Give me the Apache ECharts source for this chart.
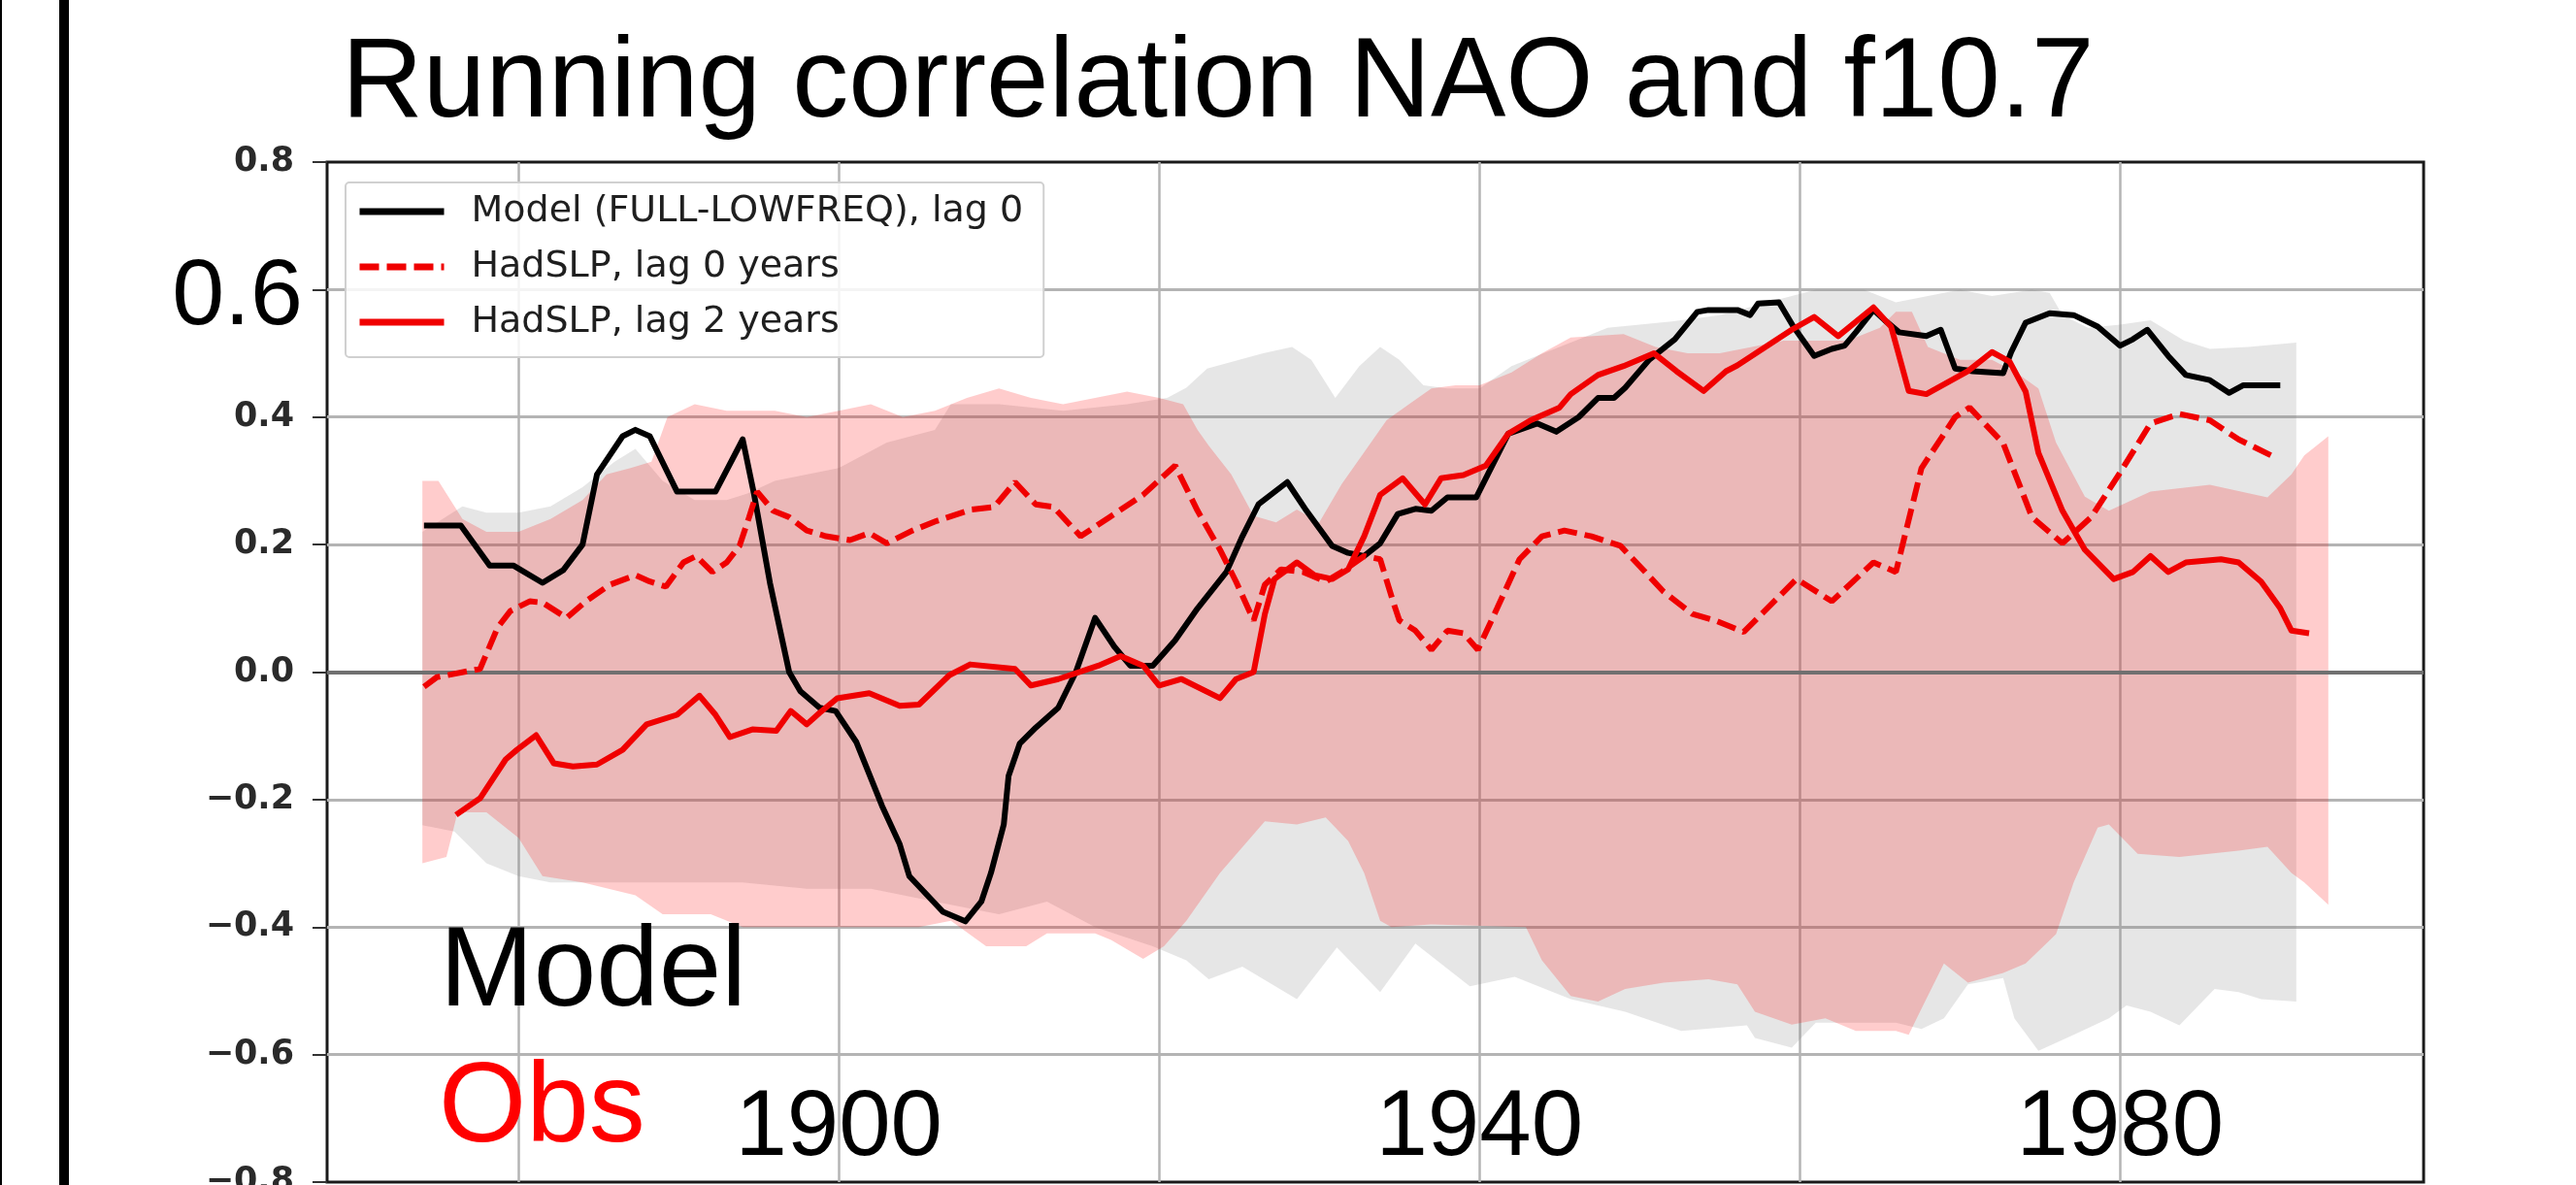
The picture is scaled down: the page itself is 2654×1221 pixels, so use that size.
<!DOCTYPE html>
<html><head><meta charset="utf-8">
<script src="https://cdn.jsdelivr.net/npm/echarts@6/dist/echarts.min.js"></script>
<style>html,body{margin:0;padding:0;background:#fff;}#c{width:2654px;height:1221px;}</style>
</head><body><div id="c"></div>
<script>
const titleText = 'Running correlation NAO and f10.7';
const seriesNames = ['Model (FULL-LOWFREQ), lag 0', 'HadSLP, lag 0 years', 'HadSLP, lag 2 years'];
const xGridYears = [1880, 1900, 1920, 1940, 1960, 1980];
const xLabelYears = [1900, 1940, 1980];
const bigYLabel = '0.6';
const panelLabels = ['Model', 'Obs'];

const modelYears = [1874.1,1876.4,1878.2,1879.7,1881.5,1882.8,1884.0,1884.9,1886.5,1887.3,1888.2,1889.9,1892.3,1894.0,1894.7,1895.7,1896.9,1897.6,1898.8,1899.8,1901.1,1902.7,1903.8,1904.4,1906.5,1907.9,1908.9,1909.5,1910.3,1910.6,1911.3,1912.3,1913.7,1914.8,1916.0,1917.2,1918.2,1919.6,1921.0,1922.4,1924.2,1925.2,1926.2,1928.0,1929.2,1930.8,1931.8,1932.8,1933.8,1934.9,1936.0,1937.0,1938.0,1939.8,1940.8,1941.8,1943.6,1944.8,1946.2,1947.4,1948.4,1949.1,1950.6,1952.2,1953.6,1954.3,1956.1,1956.9,1957.4,1958.7,1959.6,1960.9,1962.0,1962.8,1963.5,1964.6,1965.3,1966.2,1967.9,1968.8,1969.7,1970.8,1972.7,1973.2,1974.1,1975.6,1977.1,1978.6,1980.0,1980.8,1981.7,1983.0,1984.1,1985.6,1986.8,1987.7,1990.0];
const modelCorr = [0.23,0.23,0.167,0.167,0.14,0.16,0.20,0.31,0.37,0.38,0.37,0.283,0.283,0.365,0.28,0.14,0.0,-0.03,-0.056,-0.061,-0.11,-0.21,-0.27,-0.32,-0.376,-0.391,-0.36,-0.315,-0.239,-0.163,-0.112,-0.087,-0.056,0.0,0.085,0.04,0.01,0.01,0.05,0.10,0.157,0.213,0.263,0.298,0.253,0.198,0.187,0.182,0.202,0.248,0.256,0.253,0.274,0.274,0.324,0.374,0.39,0.377,0.40,0.43,0.43,0.446,0.49,0.522,0.565,0.568,0.568,0.56,0.578,0.58,0.542,0.496,0.507,0.512,0.533,0.568,0.552,0.533,0.527,0.537,0.476,0.472,0.469,0.502,0.548,0.563,0.56,0.542,0.512,0.522,0.537,0.496,0.466,0.458,0.438,0.45,0.45];

const lag0Years = [1874.1,1874.9,1877.6,1878.7,1879.5,1880.7,1881.5,1883.0,1884.2,1885.7,1887.3,1888.2,1889.2,1890.3,1891.1,1892.1,1893.0,1893.8,1894.4,1894.9,1895.9,1896.9,1898.0,1899.2,1900.7,1901.9,1903.0,1904.6,1906.1,1908.3,1909.7,1911.0,1912.3,1913.4,1915.1,1916.9,1919.0,1921.0,1922.4,1923.8,1924.8,1925.9,1926.6,1927.6,1929.0,1930.4,1931.4,1932.8,1933.8,1934.6,1935.0,1936.0,1937.0,1938.0,1939.0,1939.9,1941.1,1942.5,1943.9,1945.3,1947.0,1948.8,1950.2,1951.5,1953.3,1954.7,1956.5,1959.8,1962.0,1964.6,1966.0,1967.6,1969.7,1970.6,1972.7,1974.5,1976.4,1978.2,1980.0,1981.9,1983.7,1985.6,1987.4,1989.5];
const lag0Corr = [-0.023,-0.008,0.005,0.07,0.096,0.111,0.109,0.085,0.111,0.137,0.152,0.142,0.134,0.172,0.182,0.157,0.172,0.198,0.243,0.283,0.253,0.243,0.222,0.213,0.207,0.218,0.202,0.222,0.237,0.255,0.259,0.298,0.263,0.259,0.213,0.243,0.278,0.324,0.253,0.192,0.142,0.081,0.137,0.161,0.157,0.142,0.157,0.182,0.177,0.111,0.081,0.065,0.035,0.065,0.061,0.035,0.10,0.177,0.213,0.222,0.213,0.198,0.161,0.126,0.091,0.081,0.063,0.146,0.111,0.172,0.157,0.32,0.40,0.415,0.359,0.243,0.202,0.243,0.313,0.39,0.405,0.395,0.365,0.339];

const lag2Years = [1876.1,1877.6,1879.2,1879.9,1881.1,1882.2,1883.4,1884.9,1886.5,1888.0,1889.9,1891.3,1892.3,1893.2,1894.6,1896.1,1897.0,1898.0,1898.8,1899.9,1901.9,1903.8,1905.0,1906.9,1908.2,1911.0,1912.0,1913.7,1916.2,1917.6,1919.0,1920.0,1921.4,1923.8,1924.8,1925.9,1926.6,1927.2,1928.6,1929.7,1930.8,1931.8,1932.8,1933.8,1935.2,1936.6,1937.6,1939.0,1940.4,1941.8,1943.2,1945.0,1945.7,1947.4,1949.0,1950.9,1952.3,1954.0,1955.4,1956.1,1959.5,1960.9,1962.4,1964.6,1965.7,1966.8,1967.9,1970.5,1972.0,1973.1,1974.1,1974.9,1976.4,1977.8,1979.6,1980.8,1981.9,1983.0,1984.1,1986.3,1987.4,1988.8,1990.0,1990.7,1991.8];
const lag2Corr = [-0.224,-0.198,-0.137,-0.122,-0.099,-0.143,-0.148,-0.145,-0.122,-0.082,-0.067,-0.037,-0.067,-0.102,-0.09,-0.092,-0.061,-0.082,-0.064,-0.041,-0.033,-0.053,-0.051,-0.005,0.012,0.005,-0.021,-0.011,0.01,0.025,0.01,-0.021,-0.011,-0.041,-0.011,0.0,0.091,0.146,0.172,0.152,0.146,0.161,0.213,0.278,0.304,0.263,0.304,0.309,0.324,0.374,0.395,0.415,0.436,0.466,0.48,0.50,0.472,0.441,0.472,0.481,0.537,0.557,0.527,0.572,0.542,0.441,0.436,0.472,0.502,0.487,0.44,0.344,0.253,0.192,0.146,0.157,0.182,0.157,0.172,0.177,0.172,0.142,0.10,0.065,0.061];

const obsUpperYears = [1874.0,1875.0,1876.5,1878.0,1880.0,1882.0,1884.0,1885.5,1887.0,1888.3,1889.3,1891.0,1893.0,1894.3,1896.0,1898.0,1900.0,1902.0,1904.0,1906.0,1908.0,1910.0,1912.0,1914.0,1916.0,1918.0,1920.0,1921.5,1922.4,1923.1,1924.5,1925.9,1927.3,1928.6,1930.0,1931.4,1932.8,1934.2,1935.6,1937.0,1938.5,1940.0,1942.0,1943.9,1945.7,1949.0,1951.0,1953.0,1955.0,1957.0,1959.0,1961.0,1963.0,1965.0,1966.0,1967.0,1968.0,1970.0,1972.0,1973.5,1974.9,1976.0,1977.8,1979.3,1981.9,1985.6,1989.2,1990.7,1991.5,1993.0];
const obsUpper = [0.30,0.30,0.24,0.22,0.22,0.24,0.27,0.31,0.32,0.33,0.40,0.42,0.41,0.41,0.41,0.40,0.41,0.42,0.40,0.41,0.43,0.445,0.43,0.42,0.43,0.44,0.43,0.42,0.38,0.355,0.31,0.245,0.235,0.255,0.235,0.295,0.345,0.395,0.42,0.445,0.45,0.45,0.47,0.50,0.525,0.53,0.51,0.50,0.50,0.51,0.52,0.52,0.52,0.54,0.565,0.565,0.51,0.49,0.49,0.47,0.445,0.36,0.275,0.253,0.283,0.294,0.274,0.31,0.34,0.37];
const obsLowerYears = [1874.0,1875.5,1876.2,1878.0,1880.0,1881.5,1884.0,1887.3,1889.0,1892.0,1894.0,1898.0,1902.0,1905.0,1907.0,1909.2,1911.7,1913.0,1916.0,1917.0,1919.0,1920.3,1921.7,1923.8,1926.6,1928.6,1930.4,1931.8,1932.8,1933.8,1934.5,1937.0,1942.9,1943.9,1945.7,1947.4,1949.1,1951.5,1954.3,1956.1,1957.2,1959.5,1961.6,1963.5,1966.0,1966.8,1967.6,1969.0,1970.5,1972.7,1974.1,1976.0,1977.1,1978.6,1979.3,1981.1,1983.7,1987.4,1989.2,1990.7,1991.5,1993.0];
const obsLower = [-0.30,-0.29,-0.22,-0.22,-0.26,-0.32,-0.33,-0.35,-0.38,-0.38,-0.40,-0.40,-0.40,-0.40,-0.39,-0.43,-0.43,-0.41,-0.41,-0.42,-0.45,-0.43,-0.39,-0.315,-0.234,-0.239,-0.228,-0.265,-0.315,-0.39,-0.40,-0.396,-0.40,-0.452,-0.508,-0.517,-0.497,-0.487,-0.482,-0.49,-0.533,-0.553,-0.543,-0.563,-0.563,-0.569,-0.528,-0.457,-0.487,-0.472,-0.457,-0.411,-0.33,-0.244,-0.239,-0.285,-0.29,-0.28,-0.274,-0.315,-0.33,-0.365];

const modelUpperYears = [1874.0,1876.5,1878.0,1880.0,1882.0,1884.0,1886.0,1887.3,1889.0,1891.0,1893.0,1894.3,1896.0,1900.0,1903.0,1906.0,1907.0,1910.0,1914.0,1918.0,1920.5,1921.7,1923.0,1925.0,1926.5,1928.3,1929.5,1931.0,1932.5,1933.8,1935.0,1936.5,1938.0,1940.0,1942.0,1944.0,1946.0,1948.0,1950.0,1952.0,1955.0,1958.0,1961.0,1964.0,1966.0,1968.0,1970.0,1972.0,1974.5,1975.6,1976.4,1978.0,1980.0,1981.9,1984.0,1985.6,1988.0,1991.0];
const modelUpper = [0.22,0.26,0.25,0.25,0.26,0.29,0.33,0.35,0.30,0.27,0.27,0.28,0.30,0.32,0.36,0.38,0.42,0.42,0.41,0.42,0.43,0.446,0.476,0.49,0.50,0.51,0.49,0.43,0.48,0.51,0.49,0.45,0.445,0.445,0.48,0.50,0.52,0.54,0.545,0.55,0.56,0.58,0.60,0.60,0.58,0.59,0.60,0.59,0.60,0.595,0.56,0.54,0.545,0.552,0.52,0.507,0.51,0.517];
const modelLowerYears = [1874.0,1876.0,1878.0,1880.0,1882.0,1885.0,1887.3,1890.0,1894.0,1898.0,1902.0,1906.0,1910.0,1913.0,1916.0,1919.6,1921.7,1923.1,1925.2,1928.6,1931.1,1933.8,1936.0,1939.4,1942.2,1945.7,1949.1,1952.6,1956.7,1957.2,1959.5,1961.0,1966.0,1967.6,1969.0,1970.5,1972.7,1973.4,1974.9,1977.1,1979.3,1980.4,1981.9,1983.7,1985.9,1987.4,1988.8,1991.0];
const modelLower = [-0.24,-0.25,-0.30,-0.32,-0.33,-0.33,-0.33,-0.33,-0.33,-0.34,-0.34,-0.36,-0.38,-0.36,-0.40,-0.43,-0.452,-0.482,-0.462,-0.513,-0.432,-0.502,-0.426,-0.493,-0.478,-0.513,-0.533,-0.563,-0.554,-0.574,-0.589,-0.55,-0.55,-0.56,-0.543,-0.49,-0.48,-0.543,-0.594,-0.569,-0.543,-0.523,-0.533,-0.554,-0.497,-0.502,-0.513,-0.517];

function pairs(xs, ys) { return xs.map((x, i) => [x, ys[i]]); }

function bandSeries(name, upX, upY, loX, loY, color, z) {
  const poly = pairs(upX, upY).concat(pairs(loX, loY).reverse());
  return {
    type: 'custom', name: name, coordinateSystem: 'cartesian2d', silent: true, z: z,
    clip: true, data: poly, encode: { x: 0, y: 1 },
    renderItem: function (params, api) {
      if (params.dataIndex !== 0) return null;
      return { type: 'polygon', shape: { points: poly.map(p => api.coord(p)) }, style: { fill: color } };
    }
  };
}

const chart = echarts.init(document.getElementById('c'), null, { renderer: 'canvas' });
const modelBand = bandSeries('modelBand', modelUpperYears, modelUpper, modelLowerYears, modelLower, 'rgba(128,128,128,0.2)', 1);
modelBand.markLine = {
  silent: true, symbol: 'none', label: { show: false },
  lineStyle: { color: '#707070', width: 4, type: 'solid' },
  data: [{ yAxis: 0 }]
};

chart.setOption({
  animation: false,
  backgroundColor: '#ffffff',
  title: {
    text: titleText, left: 352, top: 30, padding: 0,
    textStyle: { fontFamily: 'Liberation Sans', fontSize: 116, lineHeight: 116, fontWeight: 'normal', color: '#000000' }
  },
  legend: {
    orient: 'vertical', left: 356, top: 188,
    data: seriesNames,
    itemWidth: 87, itemHeight: 20, itemGap: 17,
    padding: [10, 21, 16, 11],
    backgroundColor: 'rgba(255,255,255,0.85)',
    borderColor: '#d0d0d0', borderWidth: 2, borderRadius: 4,
    selectedMode: false,
    textStyle: { fontFamily: 'DejaVu Sans', fontSize: 38, lineHeight: 40, color: '#1f1f1f', padding: [0, 0, 0, 23] },
    lineStyle: { width: 7 },
    itemStyle: { opacity: 0 },
    z: 20
  },
  grid: {
    left: 337, right: 157, top: 167, bottom: 3,
    containLabel: false, outerBoundsMode: 'none',
    show: true, borderColor: '#1a1a1a', borderWidth: 3, backgroundColor: 'transparent'
  },
  xAxis: {
    type: 'value', min: 1868.05, max: 1998.95,
    axisLine: { show: false },
    axisTick: { show: false, customValues: xGridYears },
    axisLabel: {
      customValues: xLabelYears, inside: true, margin: 6,
      fontFamily: 'Liberation Sans', fontSize: 96, color: '#000000',
      formatter: function (v) { return String(Math.round(v)); }
    },
    splitLine: { show: true, lineStyle: { color: '#b4b4b4', width: 2.5 } }
  },
  yAxis: {
    type: 'value', min: -0.8, max: 0.8, interval: 0.2,
    axisLine: { show: false },
    axisTick: { show: true, inside: false, length: 15, lineStyle: { color: '#333333', width: 2 } },
    axisLabel: {
      margin: 34, fontFamily: 'DejaVu Sans', fontSize: 35, fontWeight: 'bold', color: '#2a2a2a',
      formatter: function (v) {
        const r = Math.round(v * 10) / 10;
        if (Math.abs(r - 0.6) < 1e-9) return '';
        const s = Math.abs(r).toFixed(1);
        return r < 0 ? '\u2212' + s : s;
      }
    },
    splitLine: { show: true, showMinLine: false, showMaxLine: false, lineStyle: { color: '#b4b4b4', width: 3 } }
  },
  graphic: [
    { type: 'rect', silent: true, z: 100, shape: { x: 0, y: 0, width: 2, height: 1221 }, style: { fill: '#000' } },
    { type: 'rect', silent: true, z: 100, shape: { x: 61, y: 0, width: 10, height: 1221 }, style: { fill: '#000' } },
    { type: 'text', silent: true, z: 100, style: { x: 312, y: 307, text: bigYLabel, align: 'right', verticalAlign: 'middle', font: '97px "Liberation Sans"', fill: '#000' } },
    { type: 'text', silent: true, z: 100, style: { x: 453, y: 1004, text: panelLabels[0], align: 'left', verticalAlign: 'middle', font: '116px "Liberation Sans"', fill: '#000' } },
    { type: 'text', silent: true, z: 100, style: { x: 452, y: 1144, text: panelLabels[1], align: 'left', verticalAlign: 'middle', font: '116px "Liberation Sans"', fill: '#ff0000' } }
  ],
  series: [
    modelBand,
    bandSeries('obsBand', obsUpperYears, obsUpper, obsLowerYears, obsLower, 'rgba(255,0,0,0.2)', 2),
    {
      type: 'line', name: seriesNames[0], data: pairs(modelYears, modelCorr), z: 10,
      symbol: 'none', smooth: false, color: '#000000',
      lineStyle: { color: '#000000', width: 6, join: 'round' }
    },
    {
      type: 'line', name: seriesNames[1], data: pairs(lag0Years, lag0Corr), z: 11,
      symbol: 'none', smooth: false, color: '#f00000',
      lineStyle: { color: '#f00000', width: 6, type: [20, 8] }
    },
    {
      type: 'line', name: seriesNames[2], data: pairs(lag2Years, lag2Corr), z: 12,
      symbol: 'none', smooth: false, color: '#f00000',
      lineStyle: { color: '#f00000', width: 6, join: 'round' }
    }
  ]
});
</script>
</body></html>
